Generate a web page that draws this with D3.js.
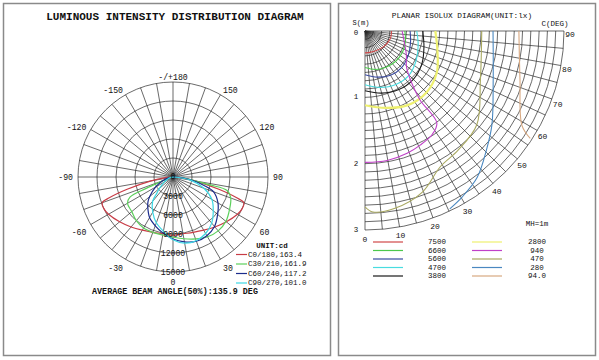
<!DOCTYPE html>
<html><head><meta charset="utf-8">
<script src="https://cdn.jsdelivr.net/npm/d3@7"></script>
<style>
body{margin:0;background:#fff}
svg{display:block}
text{font-family:"Liberation Mono","Courier New",monospace;fill:#111}
</style>
</head><body>
<svg id="chart" width="599" height="360"></svg>
<script>
// ---------- DATA ----------
// Left: luminous intensity polar diagram
const angleTicks = [0, 30, 60, 90, 120, 150, 180, -150, -120, -90, -60, -30];
const angleTickLabels = ["0", "30", "60", "90", "120", "150", "-/+180", "-150", "-120", "-90", "-60", "-30"];
const ringValues = [3000, 6000, 9000, 12000, 15000];
const ringLabels = ["3000", "6000", "9000", "12000", "15000"];

const c0Angles = [-90,-85,-80,-75,-72,-70,-65,-60,-50,-40,-30,-20,-10,0,10,20,30,40,50,60,65,70,72,75,80,85,90];
const c0Values = [300,1200,3500,7500,10500,11900,12000,11750,11000,10300,9700,9300,9100,9200,9100,9300,9700,10300,11000,11750,12000,11900,10500,7500,3500,1200,300];

const c30Angles = [-90,-80,-70,-67,-65,-60,-50,-40,-30,-20,-10,0,10,20,30,40,50,60,70,76,78,80,85,90];
const c30Values = [200,600,1500,4500,7500,8300,8500,9000,9300,9300,9300,9500,9900,10400,10900,11100,10900,10300,9700,8800,6000,3500,1500,300];

const c60Angles = [-90,-80,-70,-60,-50,-45,-40,-30,-20,-10,0,10,20,30,40,50,60,70,75,80,85,90];
const c60Values = [0,600,1800,3200,4800,5600,6200,7400,8200,9000,9800,10400,10800,10700,10200,9200,8200,6800,5000,3200,1500,0];

const c90Angles = [-90,-80,-70,-60,-50,-45,-40,-30,-20,-10,0,10,20,30,40,50,60,70,80,90];
const c90Values = [0,300,800,1600,2800,3600,5000,6400,7700,8700,9900,10600,10700,10300,9500,8300,7100,5200,2800,0];

const seriesNames = ["C0/180,163.4", "C30/210,161.9", "C60/240,117.2", "C90/270,101.0"];
const seriesColors = ["#c83c46", "#5cd05c", "#1c2c8c", "#3cd8e4"];

// Right: planar isolux diagram (C angle in deg, distance in m)
const sTicks = [0, 1, 2, 3];
const cTicks = [0, 10, 20, 30, 40, 50, 60, 70, 80, 90];

const iso7500C = [0, 15, 30, 45, 60, 75, 90];
const iso7500D = [0.33, 0.33, 0.34, 0.36, 0.38, 0.40, 0.40];
const iso6600C = [0, 15, 30, 45, 60, 75, 90];
const iso6600D = [0.55, 0.60, 0.63, 0.65, 0.65, 0.63, 0.60];
const iso5600C = [0, 15, 30, 45, 60, 75, 90];
const iso5600D = [0.66, 0.72, 0.77, 0.78, 0.75, 0.71, 0.68];
const iso4700C = [0, 15, 30, 45, 60, 75, 90];
const iso4700D = [0.81, 0.88, 0.93, 0.94, 0.89, 0.83, 0.78];
const iso3800C = [0, 15, 30, 45, 60, 75, 90];
const iso3800D = [0.90, 0.97, 1.02, 1.03, 0.99, 0.92, 0.87];
const iso2800C = [0, 15, 30, 45, 60, 75, 90];
const iso2800D = [1.12, 1.20, 1.29, 1.31, 1.25, 1.13, 1.06];
const iso940C = [90, 70, 60, 49, 42, 38.6, 38, 33, 25.8, 19, 9.7, 0];
const iso940D = [0.56, 0.64, 0.72, 0.83, 1.05, 1.33, 1.76, 1.86, 1.91, 1.95, 1.98, 1.98];
const iso470C = [90, 67, 50, 38, 29, 19.5, 9.6, 2.5, 0];
const iso470D = [1.76, 1.89, 2.20, 2.28, 2.34, 2.58, 2.71, 2.73, 2.65];
const iso280C = [90, 69, 53.5, 45.7, 37.5, 30.3, 25.5];
const iso280D = [1.93, 2.07, 2.38, 2.56, 2.78, 2.90, 2.97];
const iso94C = [90, 72.5, 59, 57];
const iso94D = [2.32, 2.45, 2.76, 2.97];

const isoLevels = ["7500", "6600", "5600", "4700", "3800", "2800", "940", "470", "280", "94.0"];
const isoColors = ["#d04848", "#4cc84c", "#3a4aa0", "#48dce0", "#1a1a1a", "#eef070", "#c040c8", "#a8a860", "#4a88c0", "#d8a880"];

// ---------- DRAWING ----------
const svg = d3.select("#chart");
const gridColor = "#2a2a2a";

// panels
svg.append("rect").attr("x", 3.5).attr("y", 3.5).attr("width", 327).attr("height", 352)
  .attr("fill", "none").attr("stroke", "#8a8a8a").attr("stroke-width", 1.5);
svg.append("rect").attr("x", 338.5).attr("y", 3.5).attr("width", 257).attr("height", 352)
  .attr("fill", "none").attr("stroke", "#8a8a8a").attr("stroke-width", 1.5);

// ===== Left polar diagram =====
const cx = 173, cy = 177, R = 95;
const rI = d3.scaleLinear().domain([0, 15000]).range([0, R]);
const toA = d => (180 - d) * Math.PI / 180;   // angle from nadir -> d3 radial angle

svg.append("text").attr("x", 175).attr("y", 20).attr("text-anchor", "middle")
  .attr("font-size", 11).attr("font-weight", "bold").text("LUMINOUS INTENSITY DISTRIBUTION DIAGRAM");

const gp = svg.append("g").attr("transform", `translate(${cx},${cy})`);
// rings
gp.selectAll("circle.ring").data(ringValues).join("circle")
  .attr("r", d => rI(d)).attr("fill", "none").attr("stroke", gridColor).attr("stroke-width", 0.7);
// spokes every 10 deg
gp.selectAll("line.spoke").data(d3.range(0, 360, 10)).join("line")
  .attr("x1", 0).attr("y1", 0)
  .attr("x2", d => R * Math.sin(d * Math.PI / 180))
  .attr("y2", d => R * Math.cos(d * Math.PI / 180))
  .attr("stroke", gridColor).attr("stroke-width", 0.7);

// curves
const radial = d3.lineRadial().angle(d => toA(d[0])).radius(d => rI(d[1]))
  .curve(d3.curveCatmullRom.alpha(0.5));
const series = [
  d3.zip(c0Angles, c0Values),
  d3.zip(c30Angles, c30Values),
  d3.zip(c60Angles, c60Values),
  d3.zip(c90Angles, c90Values)
];
series.forEach((s, i) => {
  gp.append("path").attr("d", radial(s)).attr("fill", "none")
    .attr("stroke", seriesColors[i]).attr("stroke-width", 1.2);
});

// ring labels
gp.selectAll("text.rl").data(ringValues).join("text")
  .attr("x", 0).attr("y", d => rI(d) + 0.5).attr("text-anchor", "middle")
  .attr("dominant-baseline", "central").attr("font-size", 8.2)
  .text((d, i) => ringLabels[i]);
gp.append("text").attr("x", 0).attr("y", -1).attr("text-anchor", "middle")
  .attr("dominant-baseline", "central").attr("font-size", 8.2).text("0");

// angle labels
const lr = 100;
gp.selectAll("text.al").data(angleTicks).join("text")
  .attr("x", d => lr * Math.sin(d * Math.PI / 180))
  .attr("y", d => { const c = Math.cos(d * Math.PI / 180); return lr * c + (c > 0.2 ? 5 : 0); })
  .attr("text-anchor", d => (d === 0 || d === 180) ? "middle" : (d > 0 ? "start" : "end"))
  .attr("dominant-baseline", "central").attr("font-size", 8.2)
  .text((d, i) => angleTickLabels[i]);

// legend
svg.append("text").attr("x", 272).attr("y", 246).attr("text-anchor", "middle")
  .attr("dominant-baseline", "central").attr("font-size", 7.5).attr("font-weight", "bold").text("UNIT:cd");
seriesNames.forEach((n, i) => {
  const y = 254.5 + i * 9.5;
  svg.append("line").attr("x1", 236).attr("x2", 247).attr("y1", y).attr("y2", y)
    .attr("stroke", seriesColors[i]).attr("stroke-width", 1.2);
  svg.append("text").attr("x", 248).attr("y", y).attr("dominant-baseline", "central")
    .attr("font-size", 7.5).text(n);
});
svg.append("text").attr("x", 175).attr("y", 291.5).attr("text-anchor", "middle")
  .attr("dominant-baseline", "central").attr("font-size", 8.4).attr("font-weight", "bold")
  .text("AVERAGE BEAM ANGLE(50%):135.9 DEG");

// ===== Right planar isolux =====
const ox = 365, oy = 31, RR = 199;
const rD = d3.scaleLinear().domain([0, 3]).range([0, RR]);

svg.append("text").attr("x", 462).attr("y", 16).attr("text-anchor", "middle")
  .attr("dominant-baseline", "central").attr("font-size", 7.8).text("PLANAR ISOLUX DIAGRAM(UNIT:lx)");
svg.append("text").attr("x", 361).attr("y", 23).attr("text-anchor", "middle")
  .attr("dominant-baseline", "central").attr("font-size", 7).text("S(m)");
svg.append("text").attr("x", 555).attr("y", 24).attr("text-anchor", "middle")
  .attr("dominant-baseline", "central").attr("font-size", 7.5).text("C(DEG)");

const gi = svg.append("g").attr("transform", `translate(${ox},${oy})`);
// arcs
d3.range(1, 25).forEach(i => {
  const p = d3.path();
  const r = rD(i * 0.125);
  p.moveTo(r, 0);
  p.arc(0, 0, r, 0, Math.PI / 2);
  gi.append("path").attr("d", p.toString()).attr("fill", "none")
    .attr("stroke", gridColor).attr("stroke-width", 0.7);
});
// radial lines every 5 deg
gi.selectAll("line.rad").data(d3.range(0, 91, 5)).join("line")
  .attr("x1", 0).attr("y1", 0)
  .attr("x2", d => RR * Math.sin(d * Math.PI / 180))
  .attr("y2", d => RR * Math.cos(d * Math.PI / 180))
  .attr("stroke", gridColor).attr("stroke-width", 0.7);

// contours
const radialD = d3.lineRadial().angle(d => toA(d[0])).radius(d => rD(d[1]))
  .curve(d3.curveCatmullRom.alpha(0.5));
const isoData = [
  d3.zip(iso7500C, iso7500D), d3.zip(iso6600C, iso6600D), d3.zip(iso5600C, iso5600D),
  d3.zip(iso4700C, iso4700D), d3.zip(iso3800C, iso3800D), d3.zip(iso2800C, iso2800D),
  d3.zip(iso940C, iso940D), d3.zip(iso470C, iso470D), d3.zip(iso280C, iso280D), d3.zip(iso94C, iso94D)
];
isoData.forEach((s, i) => {
  gi.append("path").attr("d", radialD(s)).attr("fill", "none")
    .attr("stroke", isoColors[i]).attr("stroke-width", i === 5 ? 2.2 : 1.1);
});

// S axis labels
svg.selectAll("text.st").data(sTicks).join("text")
  .attr("x", 356).attr("y", d => oy + rD(d) + (d === 0 ? 1.5 : 0)).attr("text-anchor", "middle")
  .attr("dominant-baseline", "central").attr("font-size", 7.5).text(d => d);
// C labels
svg.selectAll("text.ct").data(cTicks).join("text")
  .attr("x", d => ox + 205 * Math.sin(d * Math.PI / 180))
  .attr("y", d => oy + 205 * Math.cos(d * Math.PI / 180) + 3)
  .attr("text-anchor", "middle").attr("dominant-baseline", "central")
  .attr("font-size", 8).text(d => d);

svg.append("text").attr("x", 537).attr("y", 224).attr("text-anchor", "middle")
  .attr("dominant-baseline", "central").attr("font-size", 7.5).text("MH=1m");

// legend
isoLevels.forEach((lv, i) => {
  const col = Math.floor(i / 5), row = i % 5;
  const y = 242 + row * 8.5;
  const x1 = col === 0 ? 373 : 472;
  svg.append("line").attr("x1", x1).attr("x2", x1 + 30).attr("y1", y).attr("y2", y)
    .attr("stroke", isoColors[i]).attr("stroke-width", 1.2);
  svg.append("text").attr("x", col === 0 ? 437 : 537).attr("y", y).attr("text-anchor", "middle")
    .attr("dominant-baseline", "central").attr("font-size", 7.5).text(lv);
});
</script>
</body></html>
